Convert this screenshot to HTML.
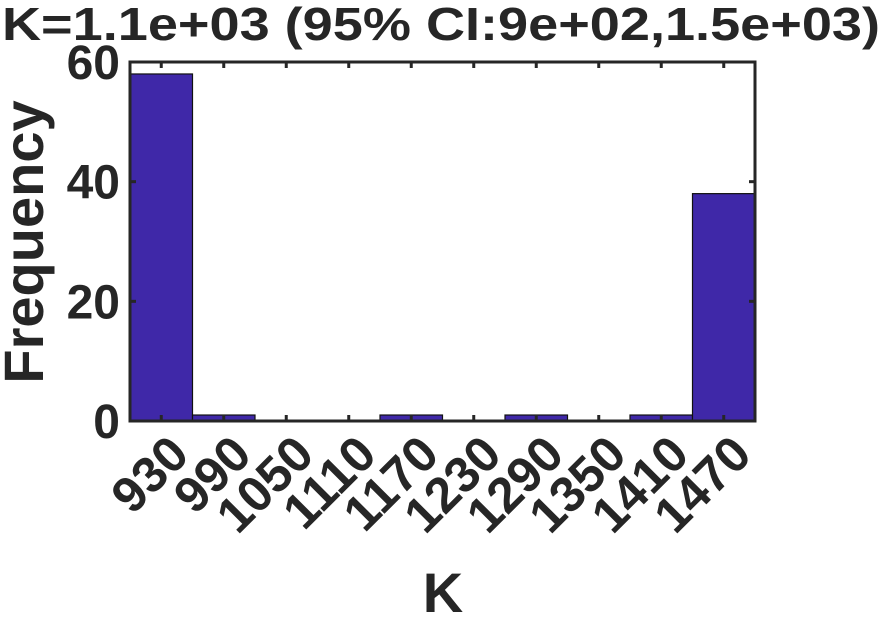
<!DOCTYPE html>
<html><head><meta charset="utf-8"><style>
html,body{margin:0;padding:0;background:#fff;}
svg text{font-family:"Liberation Sans",Arial,sans-serif;font-weight:bold;fill:#262626;}
</style></head><body>
<svg width="890" height="618" viewBox="0 0 890 618">
<text x="2" y="40" font-size="46" textLength="878" lengthAdjust="spacingAndGlyphs" fill="#000">K=1.1e+03 (95% CI:9e+02,1.5e+03)</text>
<g id="bars"></g>
<g id="axes"></g>
<text transform="translate(43,242) rotate(-90)" font-size="56" text-anchor="middle">Frequency</text>
<text x="443" y="612" font-size="56" text-anchor="middle">K</text>
</svg>
<script>
const categories=[930,990,1050,1110,1170,1230,1290,1350,1410,1470];
const counts=[58,1,0,0,1,0,1,0,1,38];
const yTicks=[0,20,40,60];
const L=130,R=755,T=62,B=421,yMax=60;
const bw=(R-L)/categories.length;
const xs=i=>L+i*bw;
const ys=v=>B-(v/yMax)*(B-T);
const NS="http://www.w3.org/2000/svg";
const bars=document.getElementById('bars'),axes=document.getElementById('axes');
function mk(tag,attrs,parent){const e=document.createElementNS(NS,tag);for(const k in attrs)e.setAttribute(k,attrs[k]);parent.appendChild(e);return e;}
counts.forEach((c,i)=>{
  if(c<=0)return;
  const r=mk('rect',{x:xs(i),y:ys(c),width:bw,height:B-ys(c),fill:'#3f28a8',stroke:'#111','stroke-width':1.2},bars);
  
  
});
const box=mk('rect',{x:L,y:T,width:R-L,height:B-T,fill:'none',stroke:'#262626','stroke-width':3},axes);


yTicks.forEach(v=>{
  const y=ys(v);
  mk('line',{x1:L,x2:L+6,y1:y,y2:y,stroke:'#262626','stroke-width':3},axes);
  mk('line',{x1:R,x2:R-6,y1:y,y2:y,stroke:'#262626','stroke-width':3},axes);
  const t=mk('text',{x:L-10,y:y+17,'font-size':48,'text-anchor':'end'},axes);
  t.textContent=v;
  
  
});
categories.forEach((c,i)=>{
  const x=xs(i)+bw/2;
  mk('line',{x1:x,x2:x,y1:B,y2:B-6,stroke:'#262626','stroke-width':3},axes);
  mk('line',{x1:x,x2:x,y1:T,y2:T+6,stroke:'#262626','stroke-width':3},axes);
  const t=mk('text',{transform:`translate(${x+30},${B+36}) rotate(-45)`,'font-size':50,'text-anchor':'end'},axes);
  t.textContent=c;
  
  
});
</script>
</body></html>
